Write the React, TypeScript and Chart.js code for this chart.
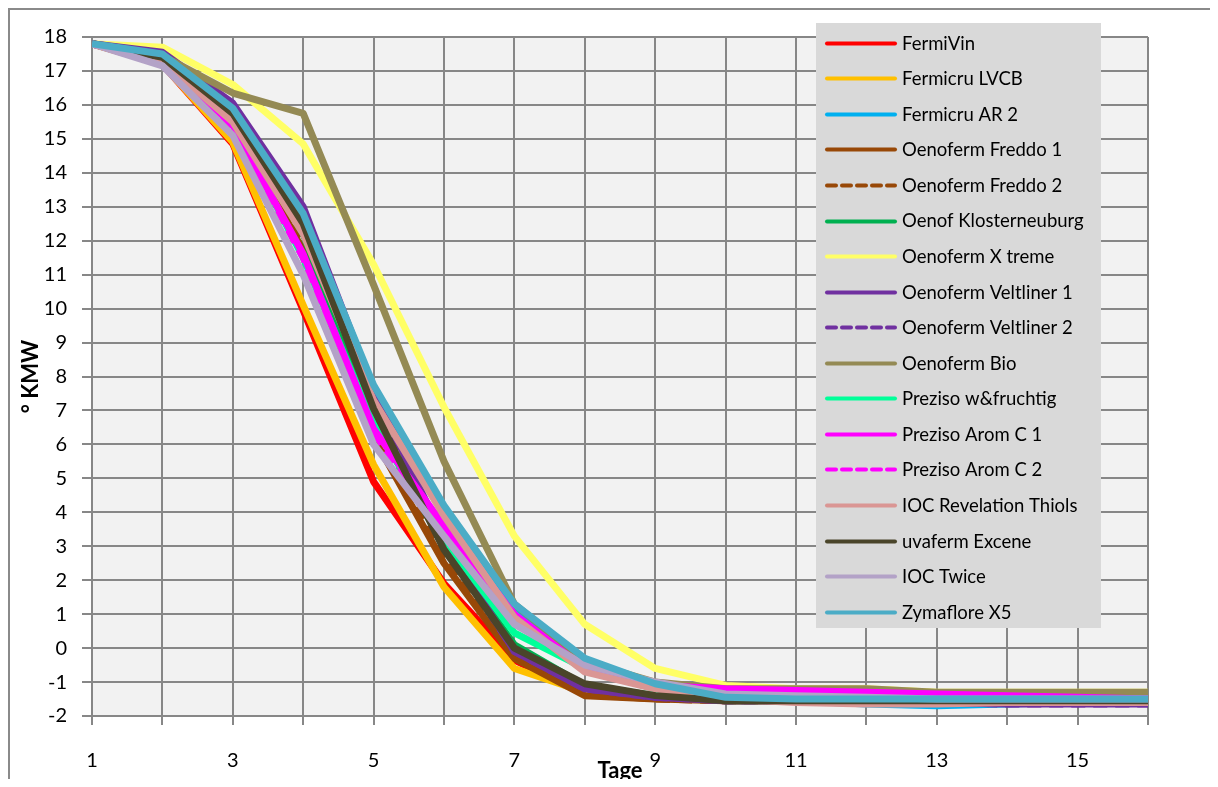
import React, { useEffect, useRef } from "react";
import { Chart, registerables } from "chart.js";
Chart.register(...registerables);

const days = [1, 2, 3, 4, 5, 6, 7, 8, 9, 10, 11, 12, 13, 14, 15, 16];

const seriesNames = [
  "FermiVin",
  "Fermicru LVCB",
  "Fermicru AR 2",
  "Oenoferm Freddo 1",
  "Oenoferm Freddo 2",
  "Oenof Klosterneuburg",
  "Oenoferm X treme",
  "Oenoferm Veltliner 1",
  "Oenoferm Veltliner 2",
  "Oenoferm Bio",
  "Preziso w&fruchtig",
  "Preziso Arom C 1",
  "Preziso Arom C 2",
  "IOC Revelation Thiols",
  "uvaferm Excene",
  "IOC Twice",
  "Zymaflore X5",
];

const fermiVin = [17.8, 17.2, 14.85, 9.95, 4.9, 1.9, -0.35, -1.35, -1.45, -1.55, -1.55, -1.55, -1.55, -1.55, -1.55, -1.55];
const fermicruLVCB = [17.8, 17.2, 14.9, 10.1, 5.4, 1.8, -0.6, -1.3, -1.45, -1.5, -1.55, -1.55, -1.55, -1.55, -1.55, -1.55];
const fermicruAR2 = [17.8, 17.5, 15.85, 12.6, 7.5, 4.0, 1.1, -0.4, -1.1, -1.4, -1.55, -1.65, -1.7, -1.65, -1.6, -1.6];
const freddo1 = [17.8, 17.3, 15.6, 11.7, 6.2, 2.5, -0.3, -1.4, -1.5, -1.55, -1.55, -1.55, -1.55, -1.55, -1.55, -1.55];
const freddo2 = [17.8, 17.3, 15.6, 11.8, 6.4, 2.6, -0.2, -1.35, -1.5, -1.55, -1.55, -1.55, -1.55, -1.55, -1.55, -1.55];
const klosterneuburg = [17.8, 17.4, 15.7, 12.2, 6.8, 3.0, 0.1, -1.1, -1.4, -1.55, -1.55, -1.55, -1.55, -1.55, -1.55, -1.55];
const xtreme = [17.8, 17.7, 16.6, 14.85, 11.3, 7.1, 3.3, 0.7, -0.6, -1.1, -1.2, -1.2, -1.3, -1.3, -1.3, -1.3];
const veltliner1 = [17.8, 17.55, 16.05, 13.0, 7.6, 3.2, -0.1, -1.2, -1.45, -1.55, -1.55, -1.55, -1.6, -1.65, -1.65, -1.65];
const veltliner2 = [17.8, 17.5, 16.0, 12.7, 7.3, 3.1, -0.1, -1.2, -1.45, -1.55, -1.55, -1.55, -1.6, -1.65, -1.65, -1.65];
const bio = [17.8, 17.45, 16.35, 15.75, 10.7, 5.5, 1.3, -0.4, -1.0, -1.2, -1.2, -1.2, -1.3, -1.3, -1.3, -1.3];
const wFruchtig = [17.8, 17.3, 15.5, 11.5, 6.6, 3.2, 0.45, -0.6, -1.2, -1.45, -1.5, -1.5, -1.5, -1.5, -1.5, -1.5];
const aromC1 = [17.8, 17.3, 15.4, 11.6, 6.45, 3.6, 1.0, -0.6, -1.1, -1.2, -1.25, -1.3, -1.35, -1.4, -1.45, -1.5];
const aromC2 = [17.8, 17.3, 15.35, 11.5, 6.35, 3.5, 0.9, -0.65, -1.15, -1.3, -1.35, -1.4, -1.45, -1.5, -1.5, -1.5];
const revelation = [17.8, 17.3, 15.5, 12.2, 7.3, 3.9, 0.9, -0.7, -1.2, -1.5, -1.6, -1.65, -1.65, -1.6, -1.6, -1.6];
const excene = [17.8, 17.4, 15.75, 12.5, 7.05, 2.9, 0.0, -1.05, -1.4, -1.55, -1.55, -1.55, -1.55, -1.55, -1.55, -1.55];
const twice = [17.8, 17.15, 15.1, 11.0, 6.0, 3.3, 0.7, -0.5, -1.0, -1.35, -1.4, -1.45, -1.5, -1.5, -1.5, -1.5];
const zymaflore = [17.8, 17.5, 15.9, 12.8, 7.75, 4.2, 1.3, -0.3, -1.05, -1.45, -1.5, -1.5, -1.5, -1.5, -1.5, -1.5];

const seriesValues = [
  fermiVin, fermicruLVCB, fermicruAR2, freddo1, freddo2, klosterneuburg, xtreme,
  veltliner1, veltliner2, bio, wFruchtig, aromC1, aromC2, revelation, excene, twice, zymaflore,
];

const seriesColors = [
  "#ff0000", "#ffc000", "#00b0f0", "#984807", "#984807", "#00b050", "#ffff66",
  "#7030a0", "#7030a0", "#948a54", "#00ff99", "#ff00ff", "#ff00ff", "#da9694",
  "#4a452a", "#b3a2c7", "#4bacc6",
];

const seriesDashed = [
  false, false, false, false, true, false, false, false, true, false, false, false, true, false, false, false, false,
];

const yTitle = "° KMW";
const xTitle = "Tage";

const FONT = "Lato, 'Open Sans', sans-serif";
const GRID = "#878787";

export default function App() {
  const ref = useRef<HTMLCanvasElement | null>(null);

  useEffect(() => {
    const canvas = ref.current;
    if (!canvas) return;

    const bgPlugin = {
      id: "plotBg",
      beforeDraw(chart: any) {
        const { ctx, chartArea } = chart;
        ctx.save();
        ctx.fillStyle = "#ffffff";
        ctx.fillRect(0, 0, chart.width, chart.height);
        ctx.fillStyle = "#f2f2f2";
        ctx.fillRect(chartArea.left, chartArea.top, chartArea.right - chartArea.left, chartArea.bottom - chartArea.top);
        ctx.restore();
      },
    };

    const overlayPlugin = {
      id: "overlay",
      afterDraw(chart: any) {
        const { ctx, chartArea } = chart;
        ctx.save();
        // axis titles
        ctx.fillStyle = "#000";
        ctx.font = `bold 22px ${FONT}`;
        ctx.textAlign = "center";
        ctx.textBaseline = "middle";
        ctx.fillText(xTitle, (chartArea.left + chartArea.right) / 2, 761);
        ctx.save();
        ctx.translate(21, (chartArea.top + chartArea.bottom) / 2);
        ctx.rotate(-Math.PI / 2);
        ctx.fillText(yTitle, 0, 0);
        ctx.restore();

        // legend box
        const bx = 806, by = 13, bw = 285, bh = 605;
        ctx.fillStyle = "#d9d9d9";
        ctx.fillRect(bx, by, bw, bh);
        const ds = chart.data.datasets;
        for (let i = 0; i < ds.length; i++) {
          const cy = 32.7 + i * 35.56;
          ctx.beginPath();
          ctx.strokeStyle = ds[i].borderColor;
          ctx.lineWidth = 4;
          ctx.lineCap = "round";
          ctx.setLineDash(seriesDashed[i] ? [9, 6] : []);
          ctx.moveTo(817, Math.round(cy) + 0.5);
          ctx.lineTo(885, Math.round(cy) + 0.5);
          ctx.stroke();
          ctx.setLineDash([]);
          ctx.fillStyle = "#000";
          ctx.font = `18.5px ${FONT}`;
          ctx.textAlign = "left";
          ctx.textBaseline = "middle";
          ctx.fillText(ds[i].label, 892, cy + 1);
        }
        ctx.restore();
      },
    };

    const datasets = seriesNames.map((name, i) => ({
      label: name,
      data: days.map((d, j) => ({ x: d, y: seriesValues[i][j] })),
      borderColor: seriesColors[i],
      backgroundColor: seriesColors[i],
      borderWidth: 7,
      borderDash: seriesDashed[i] ? [14, 8] : [],
      borderJoinStyle: "round" as const,
      borderCapStyle: "butt" as const,
      pointRadius: 0,
      pointHoverRadius: 0,
      tension: 0,
      fill: false,
      order: seriesNames.length - 1 - i,
    }));

    const chart = new Chart(canvas, {
      type: "line",
      data: { datasets },
      plugins: [bgPlugin, overlayPlugin],
      options: {
        animation: false,
        responsive: false,
        devicePixelRatio: 1,
        layout: { padding: { left: 0, right: 68, top: 14, bottom: 0 } },
        plugins: {
          legend: { display: false },
          tooltip: { enabled: false },
          title: { display: false },
        },
        scales: {
          x: {
            type: "linear",
            min: 1,
            max: 16,
            afterFit: (s: any) => { s.height = 71; },
            ticks: {
              stepSize: 1,
              autoSkip: false,
              maxRotation: 0,
              padding: 24,
              color: "#000",
              font: { family: FONT, size: 20 },
              callback: (v: any) => (Number(v) % 2 === 1 ? String(v) : ""),
            },
            grid: { color: GRID, lineWidth: 2, tickLength: 9, drawTicks: true },
            border: { color: GRID, width: 2 },
          },
          y: {
            type: "linear",
            min: -2,
            max: 18,
            afterFit: (s: any) => { s.width = 82; },
            ticks: {
              stepSize: 1,
              autoSkip: false,
              padding: 15,
              color: "#000",
              font: { family: FONT, size: 20 },
            },
            grid: { color: GRID, lineWidth: 2, tickLength: 10, drawTicks: true },
            border: { color: GRID, width: 2 },
          },
        },
      },
    });

    return () => chart.destroy();
  }, []);

  return (
    <div style={{ width: 1210, height: 771, overflow: "hidden" }}>
      <div style={{ width: 1206, height: 777, border: "2px solid #8a8a8a", borderBottom: "none" }}>
        <canvas ref={ref} width={1206} height={777} style={{ display: "block", width: 1206, height: 777 }} />
      </div>
    </div>
  );
}
